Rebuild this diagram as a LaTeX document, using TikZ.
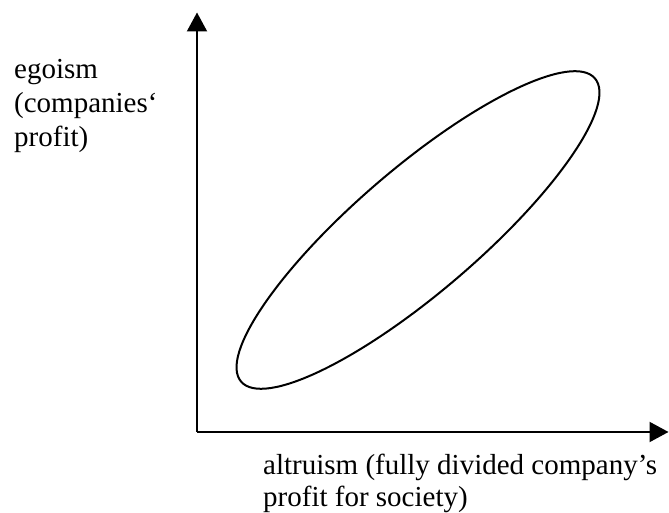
\documentclass[tikz,border=0pt]{standalone}
\usepackage{fontspec}
\setmainfont{Liberation Serif}
\usetikzlibrary{arrows.meta}
\begin{document}
\begin{tikzpicture}[x=1pt,y=1pt,
  axis/.style={line width=2pt,-{Triangle[length=19pt,width=20pt]}},
  lbl/.style={anchor=base west,inner sep=0pt,font=\fontsize{29}{34}\selectfont}]
\useasboundingbox (0,0) rectangle (669,513);
\coordinate (o) at (197,81);
\coordinate (ytip) at (197,500.5);
\coordinate (xtip) at (668.5,81);
\draw[axis] (o) -- (ytip);
\draw[axis] (o) -- (xtip);
\draw[line width=2pt] (418,283) ellipse[x radius=233, y radius=62, rotate=40.6];
\node[lbl] (e1) at (14,434) {egoism};
\node[lbl] (e2) at (14,400) {(companies‘};
\node[lbl] (e3) at (14,366) {profit)};
\node[lbl] (a1) at (263,38) {altruism (fully divided company’s};
\node[lbl] (a2) at (263,6) {profit for society)};
\end{tikzpicture}
\end{document}
